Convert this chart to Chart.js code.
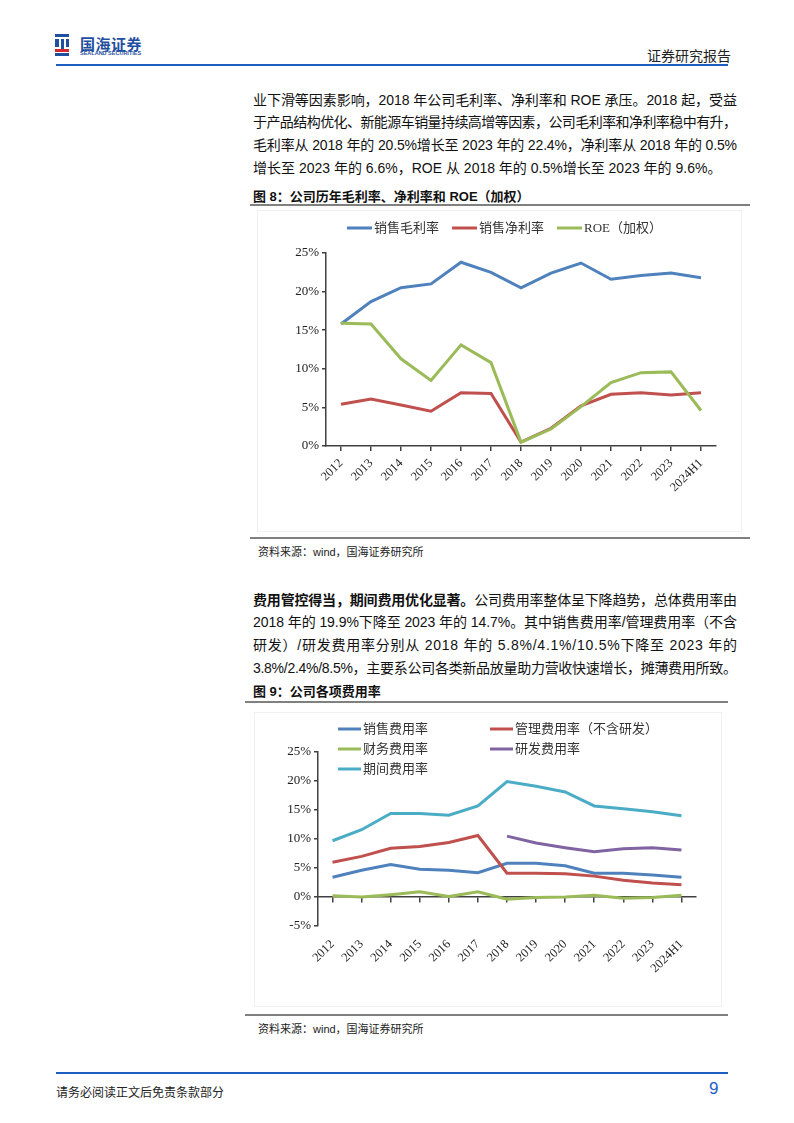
<!DOCTYPE html>
<html>
<head>
<meta charset="utf-8">
<script src="https://cdn.jsdelivr.net/npm/chart.js@4.4.1/dist/chart.umd.min.js"></script>
<style>
  body { margin: 0; background: #fff; }
  #page { position: relative; width: 794px; height: 1123px; overflow: hidden; font-family: "Liberation Sans", "Noto Sans CJK SC", sans-serif; color: #111; }
  .abs { position: absolute; }
  .para { position: absolute; left: 253px; width: 484px; font-size: 14px; line-height: 22.7px; }
  .ln { height: 22.7px; white-space: nowrap; }
  .cap { position: absolute; left: 253px; font-size: 13px; font-weight: bold; }
  .rule { position: absolute; height: 2px; background: #808080; }
  .src { position: absolute; left: 258px; font-size: 11px; color: #222; }
  .panel { position: absolute; border: 1px solid #f1f1f1; }
</style>
</head>
<body>
<div id="page">
  <!-- 页眉 -->
  <div class="abs" style="left:55px;top:34px;width:14px;height:22px;">
    <div class="abs" style="left:0;top:0;width:14px;height:3px;background:#1f4fa0;"></div>
    <div class="abs" style="left:0;top:5px;width:4px;height:8px;background:#1f4fa0;"></div>
    <div class="abs" style="left:6px;top:5px;width:3px;height:11px;background:#1f4fa0;"></div>
    <div class="abs" style="left:11px;top:5px;width:3px;height:8px;background:#1f4fa0;"></div>
    <div class="abs" style="left:0;top:15px;width:14px;height:3px;background:#d8282f;"></div>
    <div class="abs" style="left:0;top:19px;width:14px;height:3px;background:#1f4fa0;"></div>
  </div>
  <div class="abs" style="left:80px;top:33px;font-size:15px;font-weight:bold;color:#1f4fa0;letter-spacing:0.5px;">国海证券</div>
  <div class="abs" style="left:80px;top:50px;font-size:5.5px;font-weight:bold;color:#1f4fa0;">SEALAND SECURITIES</div>
  <div class="abs" style="right:63px;top:45px;font-size:14px;color:#222;">证券研究报告</div>
  <div class="abs" style="left:56px;top:64px;width:672px;height:1.5px;background:#1f5fc4;"></div>

  <div class="para" style="top:88.6px;">
    <div class="ln"><span class="t">业下滑等因素影响，2018 年公司毛利率、净利率和 ROE 承压。2018 起，受益</span></div>
    <div class="ln"><span class="t">于产品结构优化、新能源车销量持续高增等因素，公司毛利率和净利率稳中有升，</span></div>
    <div class="ln"><span class="t">毛利率从 2018 年的 20.5%增长至 2023 年的 22.4%，净利率从 2018 年的 0.5%</span></div>
    <div class="ln"><span>增长至 2023 年的 6.6%，ROE 从 2018 年的 0.5%增长至 2023 年的 9.6%。</span></div>
  </div>

  <div class="cap" style="top:186px;">图 8：公司历年毛利率、净利率和 ROE（加权）</div>
  <div class="rule" style="left:250px;top:204px;width:500px;"></div>
  <div class="panel" style="left:257px;top:210px;width:483px;height:320px;"></div>
  <canvas id="chart1" class="abs" style="left:257px;top:210px;" width="484" height="320"></canvas>
  <div class="rule" style="left:250px;top:537px;width:500px;"></div>
  <div class="src" style="top:543px;">资料来源：wind，国海证券研究所</div>

  <div class="para" style="top:588.6px;">
    <div class="ln"><span class="t"><b>费用管控得当，期间费用优化显著。</b>公司费用率整体呈下降趋势，总体费用率由</span></div>
    <div class="ln"><span class="t">2018 年的 19.9%下降至 2023 年的 14.7%。其中销售费用率/管理费用率（不含</span></div>
    <div class="ln"><span class="t">研发）/研发费用率分别从 2018 年的 5.8%/4.1%/10.5%下降至 2023 年的</span></div>
    <div class="ln"><span class="t">3.8%/2.4%/8.5%，主要系公司各类新品放量助力营收快速增长，摊薄费用所致。</span></div>
  </div>

  <div class="cap" style="top:681px;">图 9：公司各项费用率</div>
  <div class="rule" style="left:245px;top:701px;width:483px;"></div>
  <div class="panel" style="left:254px;top:712px;width:466px;height:293px;"></div>
  <canvas id="chart2" class="abs" style="left:254px;top:712px;" width="466" height="293"></canvas>
  <div class="rule" style="left:245px;top:1014px;width:483px;"></div>
  <div class="src" style="top:1020px;">资料来源：wind，国海证券研究所</div>

  <!-- 页脚 -->
  <div class="abs" style="left:56px;top:1072px;width:672px;height:1.5px;background:#1f5fc4;"></div>
  <div class="abs" style="left:56px;top:1083px;font-size:12px;color:#222;">请务必阅读正文后免责条款部分</div>
  <div class="abs" style="left:709px;top:1079px;font-size:17px;color:#1f5fc4;">9</div>
</div>

<script>
// 年份
const years = ['2012', '2013', '2014', '2015', '2016', '2017', '2018', '2019', '2020', '2021', '2022', '2023', '2024H1'];

// 图8 数据（%）
const grossMargin = [15.8, 18.7, 20.5, 21.0, 23.8, 22.5, 20.5, 22.4, 23.7, 21.6, 22.1, 22.4, 21.8];
const netMargin = [5.4, 6.1, 5.3, 4.5, 6.9, 6.8, 0.5, 2.3, 5.2, 6.7, 6.9, 6.6, 6.9];
const roe = [15.9, 15.8, 11.3, 8.5, 13.1, 10.8, 0.5, 2.2, 5.1, 8.2, 9.5, 9.6, 4.6];

// 图9 数据（%）
const sellingExp = [3.4, 4.6, 5.6, 4.8, 4.6, 4.2, 5.8, 5.8, 5.4, 4.1, 4.1, 3.8, 3.4];
const adminExp = [6.0, 7.0, 8.4, 8.7, 9.4, 10.6, 4.1, 4.1, 4.0, 3.6, 2.9, 2.4, 2.1];
const financeExp = [0.2, 0.0, 0.4, 0.9, 0.1, 0.9, -0.4, -0.1, 0.0, 0.3, -0.2, -0.1, 0.3];
const rdExp = [null, null, null, null, null, null, 10.5, 9.3, 8.5, 7.8, 8.3, 8.5, 8.1];
const periodExp = [9.7, 11.6, 14.4, 14.4, 14.1, 15.7, 19.9, 19.1, 18.1, 15.7, 15.2, 14.7, 14.0];

// 正文两端对齐：按每行宽度调整字距
document.querySelectorAll('.t').forEach(sp => {
  const w = sp.getBoundingClientRect().width;
  const n = sp.textContent.length;
  sp.style.letterSpacing = ((484 - w) / (n - 1)) + 'px';
});

const blue = '#4f81bd', red = '#c0504d', green = '#9bbb59', purple = '#8064a2', cyan = '#4bacc6';
const axisColor = '#404040';
const serif = '"Liberation Serif", "Noto Sans CJK SC", serif';

// 图例按网格排列
const gridLegend = {
  id: 'gridLegend',
  afterDraw(chart, args, opts) {
    const ctx = chart.ctx;
    ctx.save();
    ctx.font = '13px ' + serif;
    ctx.textBaseline = 'middle';
    chart.data.datasets.forEach((ds, i) => {
      const col = i % opts.cols, row = Math.floor(i / opts.cols);
      const x = opts.x + col * opts.colW, y = opts.y + row * opts.rowH;
      ctx.strokeStyle = ds.borderColor;
      ctx.lineWidth = 3;
      ctx.beginPath();
      ctx.moveTo(x, y);
      ctx.lineTo(x + opts.lineW, y);
      ctx.stroke();
      ctx.fillStyle = '#333';
      ctx.fillText(ds.label, x + opts.lineW + 2, y + 1);
    });
    ctx.restore();
  }
};

function line(label, data, color, order) {
  return {
    label: label,
    data: data,
    borderColor: color,
    backgroundColor: color,
    borderWidth: 3,
    pointRadius: 0,
    tension: 0,
    order: order
  };
}

function yAxis(min, max, width) {
  return {
    min: min,
    max: max,
    afterFit: s => { s.width = width; },
    border: { display: true, color: axisColor, width: 1.5 },
    grid: { drawOnChartArea: false, drawTicks: true, tickLength: 4, color: axisColor, lineWidth: 1.5 },
    ticks: {
      stepSize: 5,
      padding: 3,
      color: '#222',
      font: { family: serif, size: 13 },
      callback: v => v + '%'
    }
  };
}

new Chart(document.getElementById('chart1'), {
  type: 'line',
  data: {
    labels: years,
    datasets: [
      line('销售毛利率', grossMargin, blue, 3),
      line('销售净利率', netMargin, red, 2),
      line('ROE（加权）', roe, green, 1)
    ]
  },
  plugins: [gridLegend],
  options: {
    responsive: false,
    animation: false,
    layout: { padding: { left: 0, right: 25, top: 43, bottom: 0 } },
    plugins: {
      legend: { display: false },
      tooltip: { enabled: false },
      gridLegend: { x: 90, y: 18, cols: 3, colW: 105, rowH: 20, lineW: 25 }
    },
    scales: {
      x: {
        offset: true,
        afterFit: s => { s.height = 84; },
        border: { display: true, color: axisColor, width: 1.5 },
        grid: { drawOnChartArea: false, tickLength: 5, color: axisColor, lineWidth: 1.5 },
        ticks: { minRotation: 45, maxRotation: 45, padding: 5, color: '#222', font: { family: serif, size: 12.5 } }
      },
      y: yAxis(0, 25, 69)
    }
  }
});

new Chart(document.getElementById('chart2'), {
  type: 'line',
  data: {
    labels: years,
    datasets: [
      line('销售费用率', sellingExp, blue, 5),
      line('管理费用率（不含研发）', adminExp, red, 4),
      line('财务费用率', financeExp, green, 3),
      line('研发费用率', rdExp, purple, 2),
      line('期间费用率', periodExp, cyan, 1)
    ]
  },
  plugins: [gridLegend],
  options: {
    responsive: false,
    animation: false,
    layout: { padding: { left: 0, right: 24, top: 40, bottom: 0 } },
    plugins: {
      legend: { display: false },
      tooltip: { enabled: false },
      gridLegend: { x: 84, y: 17, cols: 2, colW: 152, rowH: 20, lineW: 23 }
    },
    scales: {
      x: {
        offset: true,
        afterFit: s => { s.height = 79; },
        border: { display: false },
        grid: { display: false, drawTicks: true, tickLength: 5 },
        ticks: { minRotation: 45, maxRotation: 45, padding: 6, color: '#222', font: { family: serif, size: 12.5 } }
      },
      x2: {
        type: 'category',
        labels: years,
        offset: true,
        position: { y: 0 },
        border: { display: true, color: axisColor, width: 1.5 },
        grid: { drawOnChartArea: false, tickLength: 5, color: axisColor, lineWidth: 1.5 },
        ticks: { display: false }
      },
      y: yAxis(-5, 25, 64)
    }
  }
});
</script>
</body>
</html>
